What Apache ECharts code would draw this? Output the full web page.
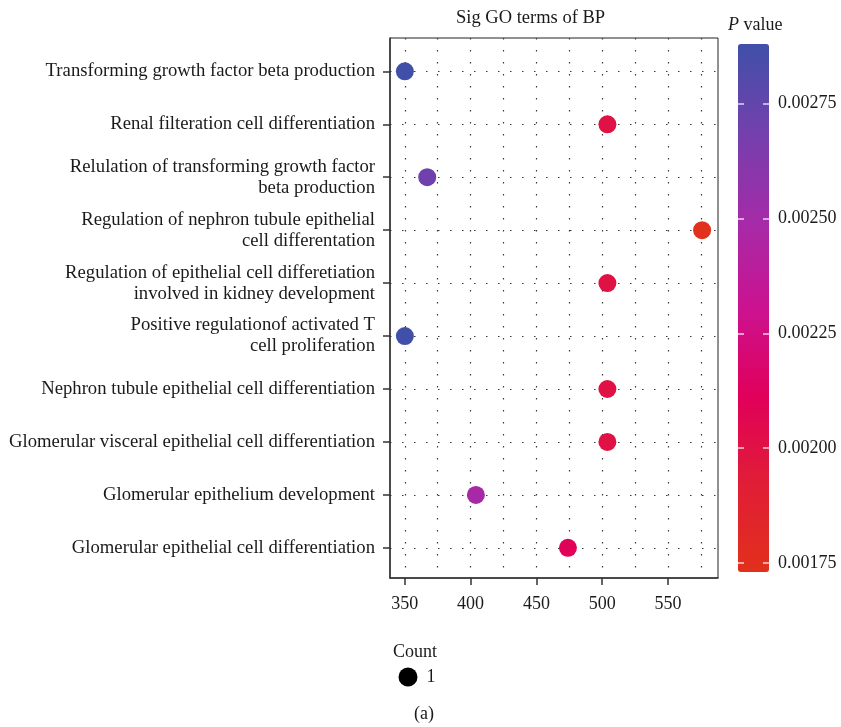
<!DOCTYPE html>
<html>
<head>
<meta charset="utf-8">
<script src="https://cdn.jsdelivr.net/npm/echarts@6/dist/echarts.min.js"></script>
<style>
html,body{margin:0;padding:0;background:#fff;}
#chart{width:841px;height:727px;}
</style>
</head>
<body>
<div id="chart"></div>
<script>
// ---- data ----
const categories = [
  "Transforming growth factor beta production",
  "Renal filteration cell differentiation",
  "Relulation of transforming growth factor\nbeta production",
  "Regulation of nephron tubule epithelial\ncell differentation",
  "Regulation of epithelial cell differetiation\ninvolved in kidney development",
  "Positive regulationof activated T\ncell proliferation",
  "Nephron tubule epithelial cell differentiation",
  "Glomerular visceral epithelial cell differentiation",
  "Glomerular epithelium development",
  "Glomerular epithelial cell differentiation"
];
const xValues = [350, 504, 367, 576, 504, 350, 504, 504, 404, 474];
const pValues = [0.00288, 0.00200, 0.00270, 0.00173, 0.00200, 0.00288, 0.00200, 0.00200, 0.00248, 0.00211];
const countLevels = ["1"];
const xTickLabels = [350, 400, 450, 500, 550];
const xGridValues = [350, 375, 400, 425, 450, 475, 500, 525, 550, 575];
const pTickLabels = [0.00175, 0.00200, 0.00225, 0.00250, 0.00275];
const pMin = 0.00173, pMax = 0.00288;
const xMin = 338.7, xMax = 588.1;

const FONT = "Liberation Serif";
const TXT = "#1a1a1a";
const gridDot = { color: "#3a3a3a", width: 1.2, type: [1.5, 10.5] };

const points = xValues.map((x, i) => [x, i, pValues[i]]);
const catIdx = categories.map((c, i) => i);

const chart = echarts.init(document.getElementById("chart"), null, { renderer: "canvas" });
chart.setOption({
  backgroundColor: "#fff",
  animation: false,
  title: [
    { text: "Sig GO terms of BP", left: 456, top: 9, padding: 0,
      textStyle: { fontFamily: FONT, fontSize: 18.5, fontWeight: "normal", color: TXT } },
    { text: "{i|P} value", left: 728, top: 16, padding: 0,
      textStyle: { fontFamily: FONT, fontSize: 18, fontWeight: "normal", color: TXT,
        rich: { i: { fontFamily: FONT, fontSize: 18, fontStyle: "italic", color: TXT } } } },
    { text: "Count", left: 393, top: 643, padding: 0,
      textStyle: { fontFamily: FONT, fontSize: 18, fontWeight: "normal", color: TXT } },
    { text: "(a)", left: 414, top: 705, padding: 0,
      textStyle: { fontFamily: FONT, fontSize: 18, fontWeight: "normal", color: TXT } }
  ],
  legend: {
    left: 398.5, top: 667.5, padding: 0,
    itemWidth: 27, itemHeight: 19,
    data: countLevels.map(n => ({ name: n, icon: "circle", itemStyle: { color: "#000" } })),
    textStyle: { fontFamily: FONT, fontSize: 18, color: TXT },
    selectedMode: false
  },
  grid: [
    { left: 390, top: 38, right: 123, bottom: 149, show: true, borderColor: "#222", borderWidth: 1, backgroundColor: "transparent", outerBoundsMode: "none" },
    { left: 738, top: 44, width: 31, height: 528, outerBoundsMode: "none" }
  ],
  xAxis: [
    { type: "value", gridIndex: 0, min: xMin, max: xMax, position: "bottom",
      axisLine: { show: true, onZero: false, lineStyle: { color: "#333", width: 1.5 } },
      axisTick: { show: true, length: 7, customValues: xTickLabels, lineStyle: { color: "#333", width: 1.5 } },
      axisLabel: { customValues: xTickLabels, margin: 17, fontFamily: FONT, fontSize: 18, color: TXT },
      splitLine: { show: false } },
    { type: "value", gridIndex: 0, min: xMin, max: xMax, position: "top",
      axisLine: { show: false, onZero: false }, axisTick: { show: false, customValues: xGridValues },
      axisLabel: { show: false },
      splitLine: { show: true, lineStyle: gridDot } },
    { type: "value", gridIndex: 1, min: 0, max: 1, show: false, axisLine: { onZero: false } }
  ],
  yAxis: [
    { type: "value", gridIndex: 0, min: -0.63, max: 9.57, inverse: true,
      axisLine: { show: true, onZero: false, lineStyle: { color: "#333", width: 1.5 } },
      axisTick: { show: true, length: 7, customValues: catIdx, lineStyle: { color: "#333", width: 1.5 } },
      axisLabel: { customValues: catIdx, margin: 15, fontFamily: FONT, fontSize: 18.7, lineHeight: 21, color: TXT, align: "right",
        formatter: v => categories[Math.round(v)] },
      splitLine: { show: true, lineStyle: gridDot } },
    { type: "value", gridIndex: 1, min: pMin, max: pMax, position: "right", z: 10,
      axisLine: { show: false, onZero: false },
      axisTick: { show: true, inside: true, length: 6, customValues: pTickLabels, lineStyle: { color: "#fff", width: 1.5, opacity: 0.8 } },
      axisLabel: { customValues: pTickLabels, margin: 9, fontFamily: FONT, fontSize: 18, color: TXT,
        formatter: v => v.toFixed(5) },
      splitLine: { show: false } },
    { type: "value", gridIndex: 1, min: pMin, max: pMax, position: "left", z: 10,
      axisLine: { show: false, onZero: false },
      axisTick: { show: true, inside: true, length: 6, customValues: pTickLabels, lineStyle: { color: "#fff", width: 1.5, opacity: 0.8 } },
      axisLabel: { show: false },
      splitLine: { show: false } }
  ],
  visualMap: {
    type: "continuous", seriesIndex: 0, dimension: 2,
    min: pMin, max: pMax, calculable: false, realtime: false,
    left: 738, top: 44, padding: 0,
    itemWidth: 31, itemHeight: 528, text: null, showLabel: false,
    inRange: { color: ["#E1301C", "#E01E36", "#E0005A", "#CC1290", "#A42BA8", "#7340AC", "#4050A8"] }
  },
  series: [
    { name: countLevels[0], type: "scatter", xAxisIndex: 0, yAxisIndex: 0,
      symbol: "circle", symbolSize: 18, data: points, z: 5,
      itemStyle: { opacity: 1 } }
  ]
});
</script>
</body>
</html>
